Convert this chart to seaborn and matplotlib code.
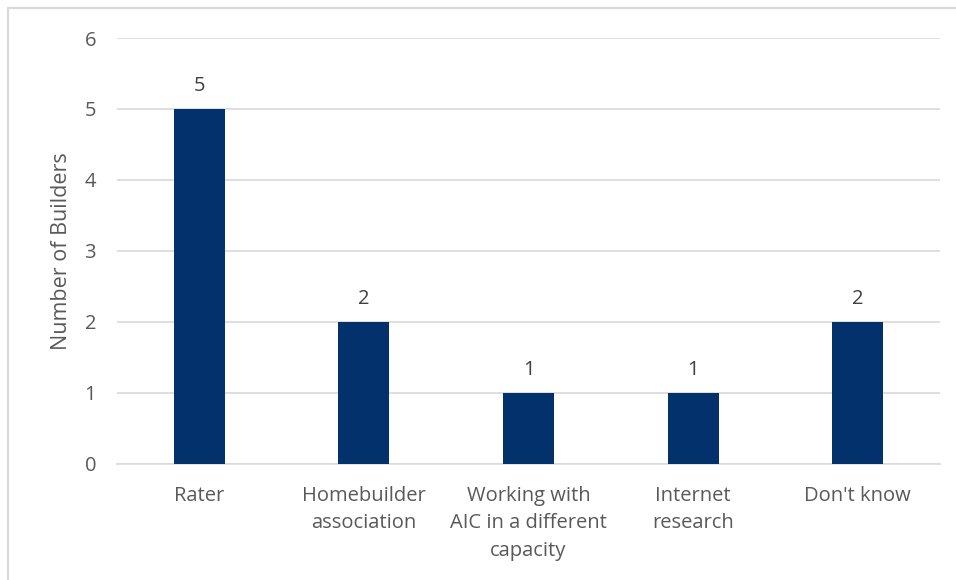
import matplotlib
matplotlib.use("Agg")
import matplotlib.pyplot as plt
import seaborn as sns
import pandas as pd
from matplotlib.patches import Rectangle

categories = ["Rater", "Homebuilder\nassociation", "Working with\nAIC in a different\ncapacity",
              "Internet\nresearch", "Don't know"]
counts = [5, 2, 1, 1, 2]
y_ticks = [0, 1, 2, 3, 4, 5, 6]
y_label = "Number of Builders"

bar_color = "#03316C"
text_color = "#595959"
grid_color = "#D9D9D9"

sns.set_theme(style="white")
plt.rcParams["font.family"] = ["Open Sans", "DejaVu Sans"]

df = pd.DataFrame({"source": categories, "builders": counts})

fig = plt.figure(figsize=(9.56, 5.8), dpi=100)
ax = fig.add_axes([117 / 956, 1 - 463.5 / 580, (940 - 117) / 956, (463.5 - 38) / 580])

sns.barplot(data=df, x="source", y="builders", color=bar_color, width=0.31,
            saturation=1, linewidth=0, ax=ax, zorder=3)

ax.set_ylim(0, 6)
ax.set_xlim(-0.5, len(categories) - 0.5)
ax.set_yticks(y_ticks)
ax.yaxis.grid(True, color=grid_color, linewidth=1.2, zorder=0)
ax.set_axisbelow(True)
for side in ["top", "right", "left"]:
    ax.spines[side].set_visible(False)
ax.spines["bottom"].set_color(grid_color)
ax.spines["bottom"].set_linewidth(1.2)

ax.tick_params(axis="both", length=0, labelsize=14.5, labelcolor=text_color)
ax.tick_params(axis="y", pad=15)
ax.tick_params(axis="x", pad=16)
for lbl in ax.get_xticklabels():
    lbl.set_linespacing(1.5)
ax.set_xlabel("")
ax.set_ylabel(y_label, fontsize=15.5, color=text_color, labelpad=9)

for container in ax.containers:
    ax.bar_label(container, fmt="%d", padding=9, fontsize=14.5, color="#404040")

# light outer frame around the chart area
fig.patches.append(Rectangle((8 / 956, -0.05), 1.1, 1 - 8 / 580 + 0.05,
                             transform=fig.transFigure, fill=False,
                             edgecolor="#D9D9D9", linewidth=1.5))

fig.savefig("out.png", dpi=100, facecolor="white")
